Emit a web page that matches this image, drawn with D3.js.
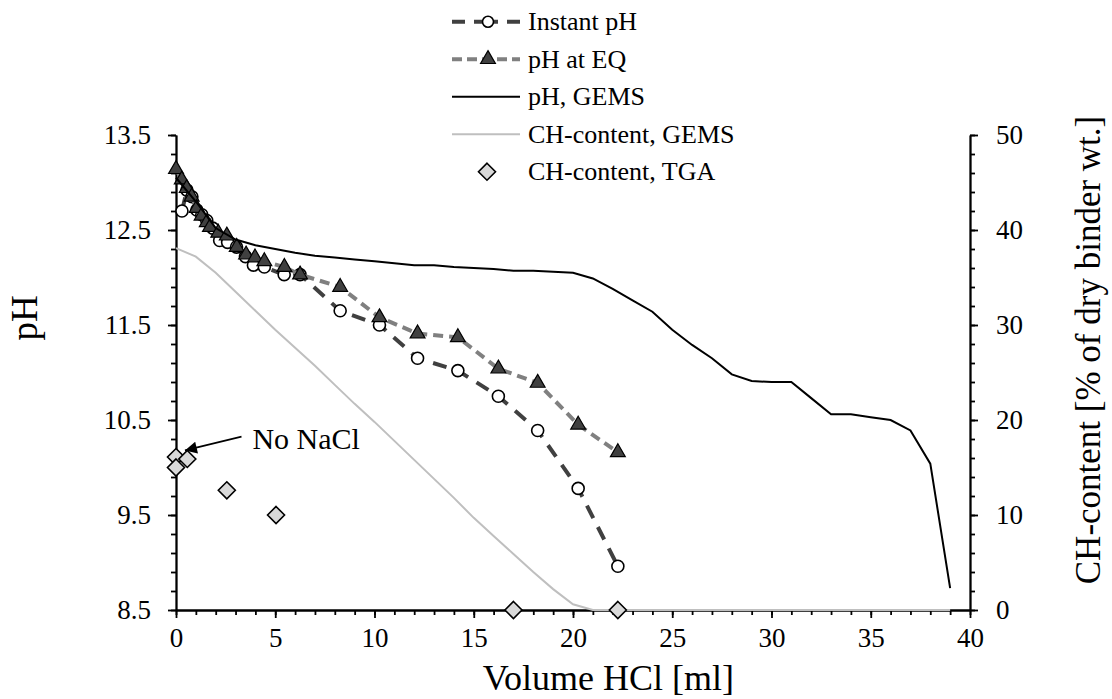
<!DOCTYPE html>
<html><head><meta charset="utf-8">
<script src="https://cdn.jsdelivr.net/npm/d3@7"></script>
<style>
html,body{margin:0;padding:0;background:#fff;}
svg{display:block;}
svg text{font-family:"Liberation Serif","Times New Roman",Times,serif !important;fill:#000;}
</style></head>
<body><svg id="c" width="1112" height="699"></svg>
<script>
// ---- data ----
const instantX = [0.3,0.55,0.8,1.05,1.3,1.55,1.85,2.2,2.6,3.05,3.5,3.9,4.45,5.45,6.25,8.27,10.25,12.17,14.2,16.24,18.22,20.26,22.26];
const instantPH = [12.70,12.92,12.85,12.71,12.66,12.60,12.52,12.39,12.37,12.32,12.22,12.13,12.11,12.03,12.03,11.65,11.50,11.15,11.02,10.75,10.39,9.78,8.96];
const eqX = [0,0.29,0.54,0.79,1.04,1.29,1.55,1.71,2.13,2.56,3.06,3.53,3.98,4.45,5.46,6.25,8.27,10.25,12.17,14.2,16.24,18.22,20.26,22.26];
const eqPH = [13.14,13.03,12.94,12.85,12.73,12.65,12.58,12.53,12.47,12.44,12.32,12.24,12.21,12.17,12.11,12.03,11.90,11.58,11.41,11.37,11.04,10.89,10.45,10.16];
const gemsX = [0,1,2,3,4,5,6,7,8,9,10,11,12,13,14,15,16,17,18,19,20,21,22,23,24,25,26,27,28,29,30,31,32,33,34,35,36,37,38,39];
const gemsPH = [13.05,12.80,12.52,12.40,12.34,12.30,12.26,12.23,12.21,12.19,12.17,12.15,12.13,12.13,12.11,12.10,12.09,12.07,12.07,12.06,12.05,11.99,11.88,11.76,11.64,11.45,11.29,11.15,10.98,10.91,10.90,10.90,10.73,10.56,10.56,10.53,10.50,10.39,10.04,8.73];
const chGemsCH = [38.1,37.2,35.5,33.5,31.5,29.5,27.6,25.7,23.7,21.7,19.8,17.8,15.8,13.8,11.8,9.7,7.8,5.9,4.0,2.2,0.6,0,0,0,0,0,0,0,0,0,0,0,0,0,0,0,0,0,0,0];
const tgaX = [0,0,0.57,2.56,5.04,17,22.26];
const tgaCH = [16.1,15.0,15.9,12.6,10.0,0,0];
const xTicks = [0,5,10,15,20,25,30,35,40];
const phTicks = [8.5,9.5,10.5,11.5,12.5,13.5];
const chTicks = [0,10,20,30,40,50];
const legendLabels = ["Instant pH","pH at EQ","pH, GEMS","CH-content, GEMS","CH-content, TGA"];
const annotationText = "No NaCl";

// ---- scales ----
const SERIF = "'Liberation Serif','Times New Roman',Times,serif";
const svg = d3.select("#c");
const x = d3.scaleLinear().domain([0,40]).range([176,970]);
const yL = d3.scaleLinear().domain([8.5,13.5]).range([610,135]);
const yR = d3.scaleLinear().domain([0,50]).range([610,135]);
const FONT = 27;

function styleAxis(g){
  g.attr("font-family",SERIF);
  g.selectAll("path.domain").attr("stroke","#000").attr("stroke-width",1.8);
  g.selectAll(".tick line").attr("stroke","#000").attr("stroke-width",1.8);
  g.selectAll("text").attr("font-size",FONT).style("font-family",SERIF).attr("fill","#000");
}
// minor ticks
svg.append("g").attr("transform","translate(0,610)")
  .call(d3.axisBottom(x).tickValues(d3.range(0,41,1)).tickSize(5).tickFormat("").tickSizeOuter(0))
  .call(styleAxis);
svg.append("g").attr("transform","translate(176,0)")
  .call(d3.axisLeft(yL).tickValues(d3.range(0,26).map(i=>8.5+i*0.2)).tickSize(5).tickFormat("").tickSizeOuter(0))
  .call(styleAxis);
svg.append("g").attr("transform","translate(970,0)")
  .call(d3.axisRight(yR).tickValues(d3.range(0,51,2)).tickSize(5).tickFormat("").tickSizeOuter(0))
  .call(styleAxis);
// major ticks
svg.append("g").attr("transform","translate(0,610)")
  .call(d3.axisBottom(x).tickValues(xTicks).tickSize(8).tickPadding(10).tickFormat(d3.format("d")).tickSizeOuter(0))
  .call(styleAxis);
svg.append("g").attr("transform","translate(176,0)")
  .call(d3.axisLeft(yL).tickValues(phTicks).tickSize(8).tickPadding(17).tickFormat(d3.format(".1f")).tickSizeOuter(0))
  .call(styleAxis);
svg.append("g").attr("transform","translate(970,0)")
  .call(d3.axisRight(yR).tickValues(chTicks).tickSize(8).tickPadding(18).tickFormat(d3.format("d")).tickSizeOuter(0))
  .call(styleAxis);

// axis titles
svg.append("text").attr("x",734).attr("y",690).attr("text-anchor","end")
  .attr("font-size",36).style("font-family",SERIF).text("Volume HCl [ml]");
svg.append("text").attr("transform","translate(37,318) rotate(-90)").attr("text-anchor","middle")
  .attr("font-size",37).style("font-family",SERIF).text("pH");
svg.append("text").attr("transform","translate(1100,350) rotate(-90)").attr("text-anchor","middle")
  .attr("font-size",35).style("font-family",SERIF).text("CH-content [% of dry binder wt.]");

// ---- series ----
const instant = instantX.map((v,i)=>[v,instantPH[i]]);
const eq = eqX.map((v,i)=>[v,eqPH[i]]);
const gems = gemsX.map((v,i)=>[v,gemsPH[i]]);
const chg = gemsX.map((v,i)=>[v,chGemsCH[i]]);
const tga = tgaX.map((v,i)=>[v,tgaCH[i]]);

const lineL = d3.line().x(d=>x(d[0])).y(d=>yL(d[1]));
const lineR = d3.line().x(d=>x(d[0])).y(d=>yR(d[1]));

const triPath = d3.symbol().type(d3.symbolTriangle).size(95)();
const diaPath = "M0,-8.5L8.5,0L0,8.5L-8.5,0Z";

// Instant pH
svg.append("path").datum(instant).attr("d",lineL).attr("fill","none")
  .attr("stroke","#404040").attr("stroke-width",4).attr("stroke-dasharray","14,10");
svg.append("g").selectAll("circle").data(instant).join("circle")
  .attr("cx",d=>x(d[0])).attr("cy",d=>yL(d[1])).attr("r",6)
  .attr("fill","#fff").attr("stroke","#000").attr("stroke-width",1.6);
// pH at EQ
svg.append("path").datum(eq).attr("d",lineL).attr("fill","none")
  .attr("stroke","#808080").attr("stroke-width",4).attr("stroke-dasharray","10,6");
svg.append("g").selectAll("path").data(eq).join("path")
  .attr("d",triPath).attr("transform",d=>`translate(${x(d[0])},${yL(d[1])})`)
  .attr("fill","#404040").attr("stroke","#000").attr("stroke-width",1.2);
// pH GEMS
svg.append("path").datum(gems).attr("d",lineL).attr("fill","none")
  .attr("stroke","#000").attr("stroke-width",2);
// CH GEMS
svg.append("path").datum(chg).attr("d",lineR).attr("fill","none")
  .attr("stroke","#bfbfbf").attr("stroke-width",2);
// CH TGA
svg.append("g").selectAll("path").data(tga).join("path")
  .attr("d",diaPath).attr("transform",d=>`translate(${x(d[0])},${yR(d[1])})`)
  .attr("fill","#d9d9d9").attr("stroke","#000").attr("stroke-width",1.6);

// annotation
svg.append("defs").append("marker").attr("id","arr")
  .attr("viewBox","0 0 10 10").attr("refX",10).attr("refY",5)
  .attr("markerUnits","userSpaceOnUse").attr("markerWidth",16).attr("markerHeight",12)
  .attr("orient","auto")
  .append("path").attr("d","M0,0L10,5L0,10Z").attr("fill","#000");
svg.append("line").attr("x1",x(3.3)).attr("y1",yR(18.25)).attr("x2",x(0.45)).attr("y2",yR(16.8))
  .attr("stroke","#000").attr("stroke-width",1.6).attr("marker-end","url(#arr)");
svg.append("text").attr("x",x(3.85)).attr("y",yR(16.9)).attr("font-size",30)
  .style("font-family",SERIF).text(annotationText);

// ---- legend ----
const lg = svg.append("g");
const rowY = i => 21.7 + i*37.5;
const lx0 = 452, lx1 = 520, lmid = 488;
legendLabels.forEach((t,i)=>{
  lg.append("text").attr("x",528).attr("y",rowY(i)+8.5).attr("font-size",26)
    .style("font-family",SERIF).text(t);
});
lg.append("line").attr("x1",lx0).attr("x2",lx1).attr("y1",rowY(0)).attr("y2",rowY(0))
  .attr("stroke","#404040").attr("stroke-width",4).attr("stroke-dasharray","13,9,24,9,13");
lg.append("circle").attr("cx",lmid).attr("cy",rowY(0)).attr("r",5.5).attr("fill","#fff").attr("stroke","#000").attr("stroke-width",1.6);
lg.append("line").attr("x1",lx0).attr("x2",lx1).attr("y1",rowY(1)).attr("y2",rowY(1))
  .attr("stroke","#808080").attr("stroke-width",4).attr("stroke-dasharray","10,5");
lg.append("path").attr("d",triPath).attr("transform",`translate(${lmid},${rowY(1)})`)
  .attr("fill","#404040").attr("stroke","#000").attr("stroke-width",1.2);
lg.append("line").attr("x1",lx0).attr("x2",lx1).attr("y1",rowY(2)).attr("y2",rowY(2))
  .attr("stroke","#000").attr("stroke-width",2);
lg.append("line").attr("x1",lx0).attr("x2",lx1).attr("y1",rowY(3)).attr("y2",rowY(3))
  .attr("stroke","#bfbfbf").attr("stroke-width",2);
lg.append("path").attr("d",diaPath).attr("transform",`translate(${lmid-1},${rowY(4)})`)
  .attr("fill","#d9d9d9").attr("stroke","#000").attr("stroke-width",1.6);
</script></body></html>
